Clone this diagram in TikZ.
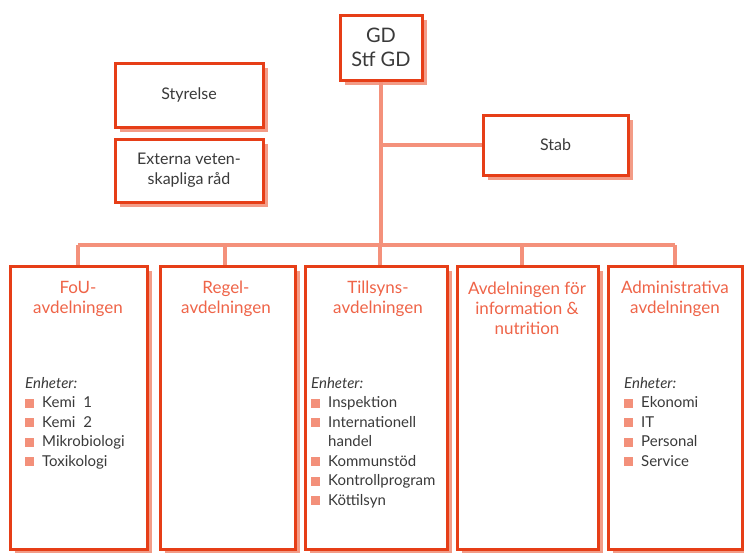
\documentclass[tikz,border=0pt]{standalone}
\usepackage{fontspec}
\setmainfont{Lato}
\usetikzlibrary{shadows}
\definecolor{edge}{HTML}{E63E17}
\definecolor{shad}{HTML}{F39C87}
\definecolor{link}{HTML}{F4917B}
\definecolor{headc}{HTML}{EF6448}
\definecolor{ink}{HTML}{3A3A3A}
\definecolor{bull}{HTML}{F3907A}
% one entry of a unit list: coloured square, then the name
\newcommand{\enhet}[1]{{\color{bull}\rule{9pt}{9pt}}\hspace{8pt}#1}
\begin{document}
\begin{tikzpicture}[x=1pt,y=-1pt,
  box/.style={draw=edge, line width=3pt, fill=white, rectangle, inner sep=0pt,
    drop shadow={shadow xshift=5pt,shadow yshift=-5pt,fill=shad,opacity=1}},
  dept/.style={box, minimum width=#1, minimum height=283pt},
  conn/.style={draw=link, line width=3.5pt},
  head/.style={text=headc, font=\fontsize{17}{20}\selectfont, align=center, inner sep=0pt, anchor=north},
  units/.style={text=ink, font=\fontsize{15}{19.5}\selectfont, align=left, inner sep=0pt, anchor=north west},
  label/.style={text=ink, align=center}
]
\useasboundingbox (0,0) rectangle (744,552);

% top level
\node[box, minimum width=82pt, minimum height=65pt, label,
      font=\fontsize{20}{24}\selectfont] (gd) at (381,47.5) {GD\\Stf GD};
\node[box, minimum width=148pt, minimum height=64pt, label,
      font=\fontsize{16}{19}\selectfont] (styr) at (189,95) {Styrelse};
\node[box, minimum width=148pt, minimum height=63pt, label,
      font=\fontsize{16}{20}\selectfont] (ext) at (189,170.5) {Externa veten-\\skapliga råd};
\node[box, minimum width=145pt, minimum height=60pt, label,
      font=\fontsize{16}{19}\selectfont] (stab) at (555.5,145) {Stab};

% departments
\node[dept=137pt] (fou) at (78.5,407.5) {};
\node[dept=135pt] (regel) at (227.5,407.5) {};
\node[dept=142pt] (till) at (376,407.5) {};
\node[dept=141pt] (info) at (527.5,407.5) {};
\node[dept=134pt] (adm) at (675,407.5) {};

% drop points on the distribution bar
\coordinate (d1) at (78,245);
\coordinate (d2) at (225,245);
\coordinate (d3) at (380,245);
\coordinate (d4) at (522,245);
\coordinate (d5) at (675,245);

% connectors
\draw[conn] (gd.south) -- (gd.south |- d3);
\draw[conn] (gd.south |- stab.west) -- (stab.west);
\draw[conn] (d1) -- (d5);
\draw[conn] (d1) -- (d1 |- fou.north);
\draw[conn] (d2) -- (d2 |- regel.north);
\draw[conn] (d3) -- (d3 |- till.north);
\draw[conn] (d4) -- (d4 |- info.north);
\draw[conn] (d5) -- (d5 |- adm.north);

% department titles
\node[head] (foutitle) at (78,281) {FoU-\\avdelningen};
\node[head] (regeltitle) at (226,281) {Regel-\\avdelningen};
\node[head] (titletitle) at (378,281) {Tillsyns-\\avdelningen};
\node[head] (infotitle) at (527,282) {Avdelningen för\\information \&\\nutrition};
\node[head] (admtitle) at (675,281) {Administrativa\\avdelningen};

% unit lists
\node[units] (foulist) at (25,377) {\textit{Enheter:}\\
  \enhet{Kemi\hspace{8pt}1}\\
  \enhet{Kemi\hspace{8pt}2}\\
  \enhet{Mikrobiologi}\\
  \enhet{Toxikologi}};
\node[units] (tilllist) at (311,377) {\textit{Enheter:}\\
  \enhet{Inspektion}\\
  \enhet{Internationell}\\
  \hspace{17pt}handel\\
  \enhet{Kommunstöd}\\
  \enhet{Kontrollprogram}\\
  \enhet{Köttilsyn}};
\node[units] (admlist) at (624,377) {\textit{Enheter:}\\
  \enhet{Ekonomi}\\
  \enhet{IT}\\
  \enhet{Personal}\\
  \enhet{Service}};
\end{tikzpicture}
\end{document}
